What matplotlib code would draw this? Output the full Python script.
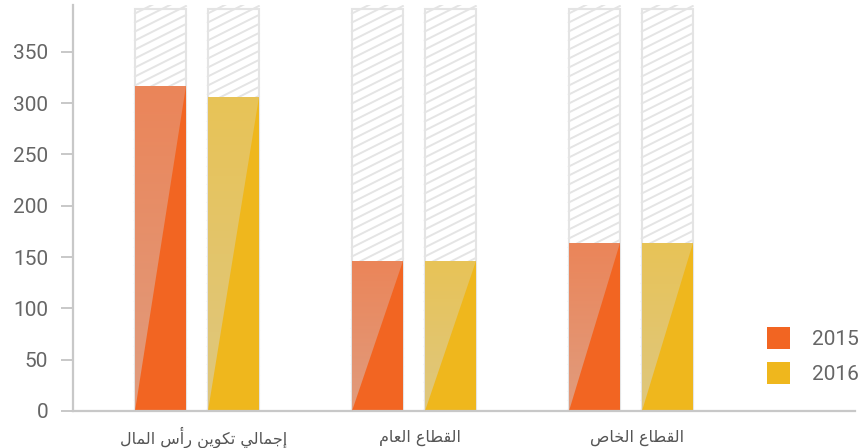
import numpy as np
import matplotlib
matplotlib.use("Agg")
import matplotlib.pyplot as plt
from matplotlib.patches import Rectangle, Polygon, Patch
from matplotlib.lines import Line2D
from matplotlib.colors import LinearSegmentedColormap

# data
categories = ["إجمالي تكوين رأس المال", "القطاع العام", "القطاع الخاص"]
years = ["2015", "2016"]
values_2015 = [317, 146, 164]
values_2016 = [306, 146, 164]
y_ticks = [0, 50, 100, 150, 200, 250, 300, 350]
track_max = 392

solid_colors = ["#F26522", "#EFB71D"]
light_top = ["#EB8559", "#E8C357"]
light_bottom = ["#E09C7E", "#DEC77F"]
track_edge = "#E4E4E4"
axis_color = "#C8C8C8"
text_color = "#666666"

# Arabic contextual shaping (matplotlib does not shape or reorder RTL text)
FORMS = {  # isolated, final, initial, medial
    "\u0627": ("\uFE8D", "\uFE8E", None, None),
    "\u0625": ("\uFE87", "\uFE88", None, None),
    "\u0623": ("\uFE83", "\uFE84", None, None),
    "\u0631": ("\uFEAD", "\uFEAE", None, None),
    "\u0648": ("\uFEED", "\uFEEE", None, None),
    "\u062C": ("\uFE9D", "\uFE9E", "\uFE9F", "\uFEA0"),
    "\u062A": ("\uFE95", "\uFE96", "\uFE97", "\uFE98"),
    "\u062E": ("\uFEA5", "\uFEA6", "\uFEA7", "\uFEA8"),
    "\u0633": ("\uFEB1", "\uFEB2", "\uFEB3", "\uFEB4"),
    "\u0635": ("\uFEB9", "\uFEBA", "\uFEBB", "\uFEBC"),
    "\u0637": ("\uFEC1", "\uFEC2", "\uFEC3", "\uFEC4"),
    "\u0639": ("\uFEC9", "\uFECA", "\uFECB", "\uFECC"),
    "\u0642": ("\uFED5", "\uFED6", "\uFED7", "\uFED8"),
    "\u0643": ("\uFED9", "\uFEDA", "\uFEDB", "\uFEDC"),
    "\u0644": ("\uFEDD", "\uFEDE", "\uFEDF", "\uFEE0"),
    "\u0645": ("\uFEE1", "\uFEE2", "\uFEE3", "\uFEE4"),
    "\u0646": ("\uFEE5", "\uFEE6", "\uFEE7", "\uFEE8"),
    "\u064A": ("\uFEF1", "\uFEF2", "\uFEF3", "\uFEF4"),
}


def shape_arabic(text):
    out = []
    for i, ch in enumerate(text):
        if ch not in FORMS:
            out.append(ch)
            continue
        prev = text[i - 1] if i > 0 else None
        nxt = text[i + 1] if i + 1 < len(text) else None
        joins_prev = prev in FORMS and FORMS[prev][2] is not None
        dual = FORMS[ch][2] is not None
        joins_next = dual and nxt in FORMS
        iso, fin, ini, med = FORMS[ch]
        if joins_prev and joins_next:
            out.append(med)
        elif joins_prev:
            out.append(fin)
        elif joins_next:
            out.append(ini)
        else:
            out.append(iso)
    return "".join(reversed(out))


plt.rcParams["font.family"] = ["Roboto", "DejaVu Sans"]

fig = plt.figure(figsize=(8.59, 4.48), dpi=100)
ax = fig.add_axes([0.085, 0.0826, 0.91, 0.907])

x = np.arange(len(categories))
offset = 0.168
width = 0.235
ax.set_xlim(-0.571, 3.032)
ax.set_ylim(0, 396)

for spine in ["top", "right"]:
    ax.spines[spine].set_visible(False)
for spine in ["left", "bottom"]:
    ax.spines[spine].set_color(axis_color)
    ax.spines[spine].set_linewidth(1.6)

ax.set_yticks(y_ticks)
ax.tick_params(axis="y", length=9, width=1.4, color=axis_color, labelsize=15,
               labelcolor=text_color, pad=9)
ax.set_xticks([])

fig.canvas.draw()
to_px = ax.transData

for j, series in enumerate([values_2015, values_2016]):
    for i, v in enumerate(series):
        x0 = x[i] + (2 * j - 1) * offset - width / 2
        x1 = x0 + width

        # hatched background track
        track = Rectangle((x0, 0), width, track_max, facecolor="white",
                          edgecolor=track_edge, linewidth=1.5, zorder=1)
        ax.add_patch(track)
        (px0, py0), (px1, py1) = to_px.transform([(x0, 0), (x1, track_max)])
        step = 9.0
        slope = 0.5
        k = py0 - slope * (px1 - px0)
        while k < py1:
            line = Line2D([px0, px1], [k, k + slope * (px1 - px0)],
                          transform=None, color=track_edge, linewidth=1.4,
                          zorder=1.5)
            line.set_clip_path(track)
            ax.add_line(line)
            k += step

        # solid bar
        ax.add_patch(Rectangle((x0, 0), width, v, facecolor=solid_colors[j],
                               edgecolor="none", zorder=2))

        # light triangle with vertical gradient
        tri = Polygon([(x0, 0), (x0, v), (x1, v)], closed=True,
                      facecolor="none", edgecolor="none", zorder=3)
        ax.add_patch(tri)
        cmap = LinearSegmentedColormap.from_list(
            "shade", [light_bottom[j], light_top[j]])
        grad = np.linspace(0, 1, 256).reshape(-1, 1)
        im = ax.imshow(grad, cmap=cmap, extent=(x0, x1, 0, v), origin="lower",
                       aspect="auto", zorder=3, interpolation="bilinear")
        im.set_clip_path(tri)

ax.set_xlim(-0.571, 3.032)
ax.set_ylim(0, 396)

for i, cat in enumerate(categories):
    ax.text(x[i] + 0.03, -26, shape_arabic(cat), ha="center", va="center",
            fontsize=11.5, color="#555555", family=["DejaVu Sans"])

handles = [Patch(facecolor=c, edgecolor="none") for c in solid_colors]
ax.legend(handles, years, loc="upper left", bbox_to_anchor=(0.8875, 0.207),
          frameon=False, fontsize=15, labelcolor=text_color,
          handlelength=1.1, handleheight=1.25, handletextpad=1.05,
          labelspacing=0.62, borderpad=0, borderaxespad=0)

fig.savefig("out.png", dpi=100)
